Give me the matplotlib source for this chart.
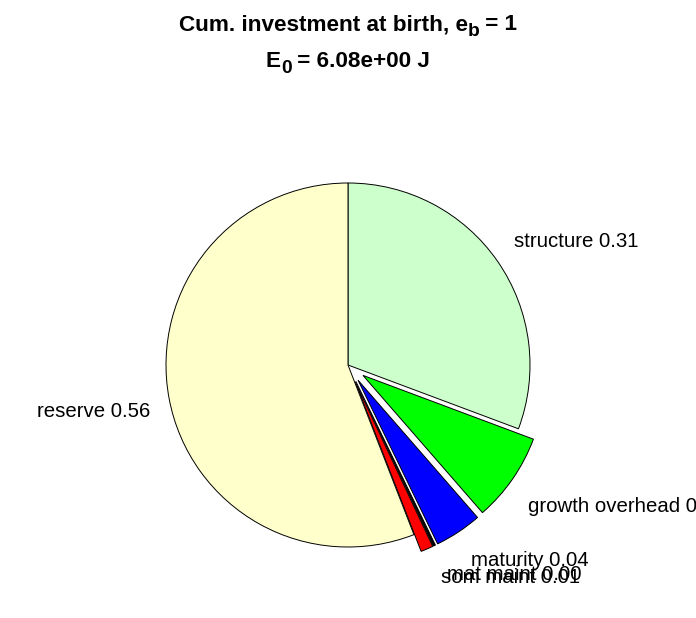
import matplotlib
matplotlib.use("Agg")
import matplotlib.pyplot as plt

plt.rcParams['font.family'] = ['Liberation Sans', 'DejaVu Sans']

# ---- data ----
categories = ['structure', 'growth overhead', 'maturity', 'mat maint', 'som maint', 'reserve']
fractions = [0.307, 0.079, 0.042, 0.002, 0.011, 0.559]
explode = [0, 0.1, 0.1, 0.1, 0.1, 0]
colors = ['#CCFFCC', '#00FF00', '#0000FF', '#000000', '#FF0000', '#FFFFCC']
# title pieces: (text, is_subscript)
title_line1 = [('Cum. investment at birth, e', False), ('b', True), (' = 1', False)]
title_line2 = [('E', False), ('0', True), (' = 6.08e+00 J', False)]

# ---- layout ----
W, H, DPI = 696, 618, 100
cx_px, cy_px, r_px = 348, 365, 182
# label anchors (data units, radius = 1) and alignment
label_pos = [(0.912, 0.648, 'left'), (0.989, -0.808, 'left'), (0.676, -1.104, 'left'),
             (0.544, -1.181, 'left'), (0.511, -1.198, 'left'), (-1.088, -0.286, 'right')]
FS = 14.7
TFS = 16.2

fig = plt.figure(figsize=(W / DPI, H / DPI), dpi=DPI)
ax = fig.add_axes([0, 0, 1, 1])
ax.axis('off')

ax.pie(fractions, explode=explode, colors=colors, startangle=90, counterclock=False,
       radius=1, normalize=True,
       wedgeprops=dict(edgecolor='black', linewidth=0.7))
ax.set_xlim(-cx_px / r_px, (W - cx_px) / r_px)
ax.set_ylim(-(H - cy_px) / r_px, cy_px / r_px)
ax.set_aspect('auto')

for name, val, (lx, ly, ha) in zip(categories, fractions, label_pos):
    ax.text(lx, ly, f'{name} {val:.2f}', ha=ha, va='baseline', fontsize=FS, color='black')

renderer = fig.canvas.get_renderer()


def draw_title_line(parts, baseline_px, fs, sub_scale=0.85, sub_drop_px=6):
    texts = []
    widths = []
    for txt, sub in parts:
        t = fig.text(0, 0, txt, fontsize=fs * (sub_scale if sub else 1.0),
                     fontweight='bold', ha='left', va='baseline')
        bb = t.get_window_extent(renderer=renderer)
        texts.append((t, sub))
        widths.append(bb.width)
    total = sum(widths)
    x = cx_px - total / 2
    for (t, sub), w in zip(texts, widths):
        y = baseline_px + (sub_drop_px if sub else 0)
        t.set_position((x / W, 1 - y / H))
        x += w


draw_title_line(title_line1, 30, TFS)
draw_title_line(title_line2, 67, TFS)

fig.savefig('out.png', dpi=DPI)
